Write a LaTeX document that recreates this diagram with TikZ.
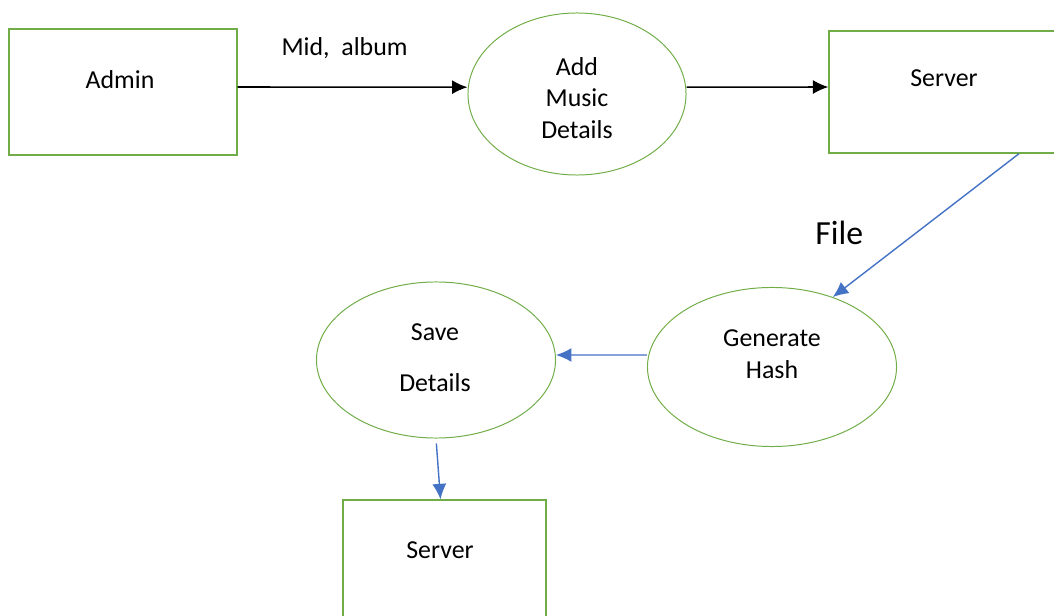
\documentclass[tikz,border=0pt]{standalone}
\usepackage{fontspec}
\setmainfont{Carlito}
\usetikzlibrary{arrows.meta,shapes.geometric}

\definecolor{boxgreen}{RGB}{112,173,71}
\definecolor{flowblue}{RGB}{68,114,196}

\tikzset{
  store/.style={draw=boxgreen, line width=0.9pt, rectangle, inner sep=0pt},
  process/.style={draw=boxgreen, line width=0.7pt, ellipse, inner sep=0pt},
  label text/.style={font=\fontsize{18.4}{24}\selectfont, align=center, inner sep=1pt},
  flow/.style={-{Latex[length=11pt, width=10pt]}, line width=1.1pt},
  blue flow/.style={flow, line width=1pt, draw=flowblue, -{Latex[length=11pt, width=10pt, flowblue]}}
}

\begin{document}
\begin{tikzpicture}[x=0.025cm, y=-0.025cm]
    \useasboundingbox (0, 0) rectangle (1054, 616);
    \clip (0, 0) rectangle (1054, 616);

    \begin{scope}
      \node[store, minimum width=5.7cm, minimum height=3.15cm] (admin) at (123, 92) {};
      \node[label text] (admin-txt) at (120, 80) {Admin};

      \node[process, minimum width=5.45cm, minimum height=4.05cm] (add) at (577, 94) {};
      \node[label text, font=\fontsize{18.4}{22.5}\selectfont] (add-txt) at (577, 98) {Add\\Music\\Details};

      \node[store, minimum width=6.3cm, minimum height=3.05cm] (server) at (955, 92) {};
      \node[label text] (server-txt) at (944, 78) {Server};
    \end{scope}

    \draw[flow] ([yshift=0.125cm]admin.east) -- node[midway, above=0.65cm, xshift=-0.2cm, label text]{Mid,\ \ album} ([yshift=0.17cm]add.west);
    \draw[flow] ([yshift=0.17cm]add.east) -- ([yshift=0.125cm]server.west);

    \begin{scope}
      \node[process, minimum width=6.225cm, minimum height=3.975cm] (hash) at (772, 367) {};
      \node[label text, font=\fontsize{18.4}{22.5}\selectfont] (hash-txt) at (772, 354) {Generate\\Hash};

      \node[process, minimum width=5.975cm, minimum height=3.9cm] (save) at (436, 360) {};
      \node[label text, font=\fontsize{18.4}{36.5}\selectfont] (save-txt) at (435, 358) {Save\\Details};

      \node[store, minimum width=5.075cm, minimum height=3.75cm] (store) at (444.5, 575) {};
      \node[label text] (store-txt) at (440, 550) {Server};
    \end{scope}

    \draw[blue flow] ([xshift=1.6cm]server.south) -- node[pos=0.55, left=1.2cm, font=\fontsize{24}{28}\selectfont]{File} (hash.49);
    \draw[blue flow] ([yshift=0.3cm]hash.west) -- ([yshift=0.125cm]save.east);
    \draw[blue flow, shorten <=0.125cm] (save.south) -- ([xshift=-0.1cm]store.north);
  \end{tikzpicture}
\end{document}
